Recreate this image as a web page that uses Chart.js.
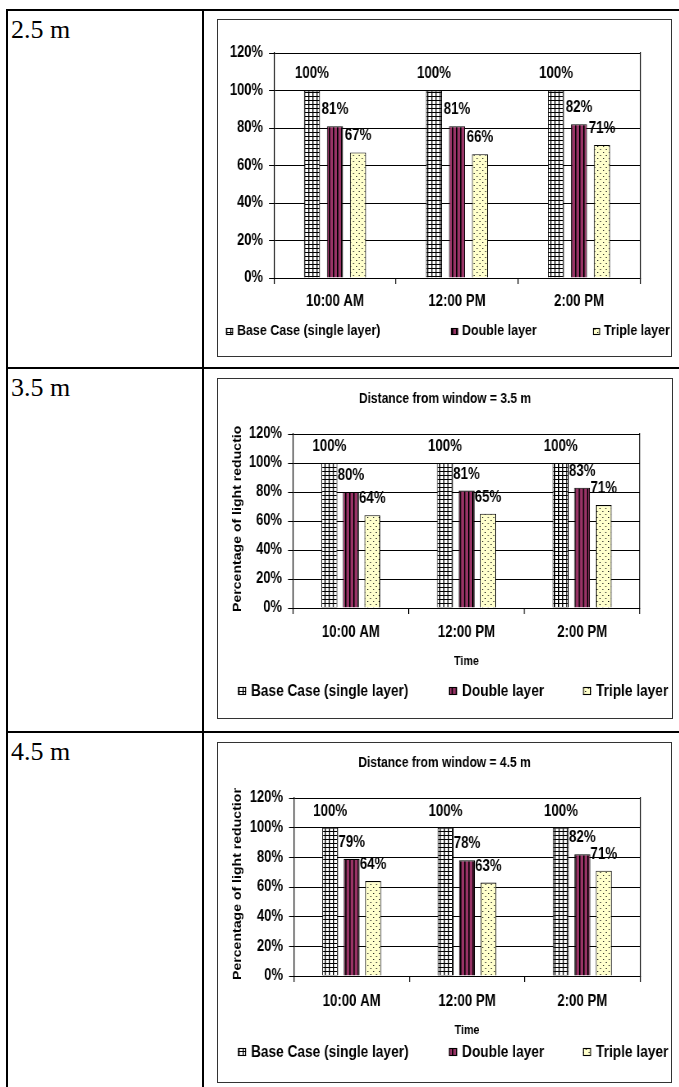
<!DOCTYPE html>
<html>
<head>
<meta charset="utf-8">
<script src="https://cdn.jsdelivr.net/npm/chart.js@4"></script>
<style>
html,body{margin:0;padding:0;background:#fff;}
body{width:679px;height:1087px;overflow:hidden;position:relative;}
.line{position:absolute;background:#000;}
.lbl{position:absolute;left:11px;font-size:26px;line-height:26px;font-family:'Liberation Serif','Times New Roman',serif;color:#000;white-space:nowrap;}
.box{position:absolute;border:1px solid #333;box-sizing:border-box;}
canvas{position:absolute;}
</style>
</head>
<body>
<div class="line" style="left:6px;top:9px;width:673px;height:2px"></div>
<div class="line" style="left:6px;top:9px;width:2px;height:1078px"></div>
<div class="line" style="left:202px;top:9px;width:2px;height:1078px"></div>
<div class="line" style="left:6px;top:367px;width:673px;height:2px"></div>
<div class="line" style="left:6px;top:731px;width:673px;height:2px"></div>
<script>
// ---------- data ----------
const categories = ['10:00 AM', '12:00 PM', '2:00 PM'];
const seriesNames = ['Base Case (single layer)', 'Double layer', 'Triple layer'];
const rowLabels = ['2.5 m', '3.5 m', '4.5 m'];
const chartTitles = [null, 'Distance from window = 3.5 m', 'Distance from window = 4.5 m'];
const xAxisTitle = 'Time';
const yAxisTitle = 'Percentage of light reduction';
const yTickLabels = ['0%', '20%', '40%', '60%', '80%', '100%', '120%'];

const base25 = [100, 100, 100];
const double25 = [81, 81, 82];
const triple25 = [67, 66, 71];

const base35 = [100, 100, 100];
const double35 = [80, 81, 83];
const triple35 = [64, 65, 71];

const base45 = [100, 100, 100];
const double45 = [79, 78, 82];
const triple45 = [64, 63, 71];

const panelValues = [
  [base25, double25, triple25],
  [base35, double35, triple35],
  [base45, double45, triple45]
];

// ---------- styling / layout (horizontal values in page px relative to canvas left) ----------
const FONT = "'Liberation Sans',Arial,sans-serif";
const SQUISH = 0.82; // the reference chart is horizontally condensed

const layouts = [
  { box: [217, 19, 671, 356], labelTop: 17, padL: 6, yW: 50, padR: 31, padT: 33, xH: 40, padB: 38, tickPad: 8.4,
    cat: 0.566, bar: 0.70, axisTitles: false,
    legend: { xs: [8, 233, 375], y: 311, size: 15.2, box: 7, gap: 4 } },
  { box: [217, 378, 672, 718], labelTop: 375, padL: 14, yW: 61, padR: 32, padT: 55, xH: 61, padB: 49, tickPad: 9.4,
    cat: 0.5575, bar: 0.744, axisTitles: true,
    title: { x: 227, y: 20, size: 14.7 },
    legend: { xs: [20, 231, 365], y: 312, size: 16.7, box: 8, gap: 5 },
    yTitle: { x: 20, bottom: 233, clipTop: 46, size: 14.1 } },
  { box: [217, 742, 671, 1082], labelTop: 739, padL: 14, yW: 62, padR: 31, padT: 55, xH: 62, padB: 44, tickPad: 10.4,
    cat: 0.5575, bar: 0.744, axisTitles: true,
    title: { x: 226.5, y: 20, size: 14.7 },
    legend: { xs: [20, 231, 365], y: 309, size: 16.7, box: 8, gap: 5 },
    yTitle: { x: 20, bottom: 237, clipTop: 45, size: 14.1 } }
];

function makePatterns() {
  function tile(w, h, draw) {
    const c = document.createElement('canvas');
    c.width = w; c.height = h;
    const g = c.getContext('2d');
    draw(g);
    return g.createPattern(c, 'repeat');
  }
  const grid = tile(5, 4, g => {
    g.fillStyle = '#fff'; g.fillRect(0, 0, 5, 4);
    g.fillStyle = '#000'; g.fillRect(0, 0, 5, 1); g.fillRect(0, 0, 1.3, 4);
  });
  const stripes = tile(5, 4, g => {
    g.fillStyle = '#993366'; g.fillRect(0, 0, 5, 4);
    g.fillStyle = '#000'; g.fillRect(0, 0, 1.6, 4);
  });
  const dots = tile(7, 6, g => {
    g.fillStyle = '#ffffcc'; g.fillRect(0, 0, 7, 6);
    g.fillStyle = '#222'; g.fillRect(0, 0, 1.3, 1); g.fillRect(3.5, 3, 1.3, 1);
  });
  return [grid, stripes, dots];
}

const barLabelsPlugin = {
  id: 'barLabels',
  afterDatasetsDraw(chart, args, o) {
    const ctx = chart.ctx;
    ctx.save();
    ctx.font = `bold ${o.size}px ${FONT}`;
    ctx.fillStyle = '#000';
    ctx.textAlign = 'center';
    ctx.textBaseline = 'middle';
    chart.data.datasets.forEach((ds, i) => {
      const meta = chart.getDatasetMeta(i);
      meta.data.forEach((bar, j) => {
        ctx.fillText(ds.data[j] + '%', bar.x, bar.y - o.offset);
      });
    });
    ctx.restore();
  }
};

const chartTitlePlugin = {
  id: 'chartTitle',
  afterDraw(chart, args, o) {
    if (!o || !o.text) return;
    const ctx = chart.ctx;
    ctx.save();
    ctx.font = `bold ${o.size}px ${FONT}`;
    ctx.fillStyle = '#000';
    ctx.textAlign = 'center';
    ctx.textBaseline = 'middle';
    ctx.fillText(o.text, o.x, o.y);
    ctx.restore();
  }
};

const seriesLegendPlugin = {
  id: 'seriesLegend',
  afterDraw(chart, args, o) {
    const ctx = chart.ctx;
    ctx.save();
    ctx.font = `bold ${o.size}px ${FONT}`;
    ctx.textAlign = 'left';
    ctx.textBaseline = 'middle';
    chart.data.datasets.forEach((ds, i) => {
      const x = o.xs[i];
      const top = Math.round(o.y - o.boxH / 2);
      ctx.fillStyle = ds.backgroundColor;
      ctx.fillRect(x, top, o.boxW, o.boxH);
      ctx.strokeStyle = '#000';
      ctx.lineWidth = 1.1;
      ctx.strokeRect(x + 0.5, top + 0.5, o.boxW - 1, o.boxH - 1);
      ctx.fillStyle = '#000';
      ctx.fillText(ds.label, x + o.boxW + o.gap, o.y);
    });
    ctx.restore();
  }
};

const yTitlePlugin = {
  id: 'yTitle',
  afterDraw(chart, args, o) {
    if (!o || !o.text) return;
    const ctx = chart.ctx;
    ctx.save();
    ctx.beginPath();
    ctx.rect(0, o.clipTop, chart.width, chart.height);
    ctx.clip();
    ctx.translate(o.x, o.bottom);
    ctx.rotate(-Math.PI / 2);
    ctx.font = `bold ${o.size}px ${FONT}`;
    ctx.fillStyle = '#000';
    ctx.textAlign = 'left';
    ctx.textBaseline = 'middle';
    ctx.fillText(o.text, 0, 0);
    ctx.restore();
  }
};

const patterns = makePatterns();

layouts.forEach((L, p) => {
  const [bl, bt, br, bb] = L.box;
  const lbl = document.createElement('div');
  lbl.className = 'lbl';
  lbl.style.top = L.labelTop + 'px';
  lbl.textContent = rowLabels[p];
  document.body.appendChild(lbl);

  const box = document.createElement('div');
  box.className = 'box';
  box.style.left = bl + 'px';
  box.style.top = bt + 'px';
  box.style.width = (br - bl + 1) + 'px';
  box.style.height = (bb - bt + 1) + 'px';
  document.body.appendChild(box);

  const W = br - bl - 1, H = bb - bt - 1;
  const Wc = Math.round(W / SQUISH);
  const sx = W / Wc;
  const X = v => v / sx;  // page px -> canvas px (horizontal)

  const cv = document.createElement('canvas');
  cv.width = Wc; cv.height = H;
  cv.style.left = (bl + 1) + 'px';
  cv.style.top = (bt + 1) + 'px';
  cv.style.width = W + 'px';
  cv.style.height = H + 'px';
  document.body.appendChild(cv);

  const title = chartTitles[p];
  const titleOpts = L.title ? { text: title, x: X(L.title.x), y: L.title.y, size: L.title.size } : { text: null };
  const yt = L.yTitle ? { text: yAxisTitle, x: X(L.yTitle.x), bottom: L.yTitle.bottom, clipTop: L.yTitle.clipTop, size: L.yTitle.size } : { text: null };
  const lg = L.legend;
  const legendOpts = { xs: lg.xs.map(X), y: lg.y, size: lg.size, boxW: X(lg.box), boxH: lg.box, gap: X(lg.gap) };

  new Chart(cv, {
    type: 'bar',
    data: {
      labels: categories,
      datasets: seriesNames.map((name, i) => ({
        label: name,
        data: panelValues[p][i],
        backgroundColor: patterns[i],
        borderColor: '#000',
        borderWidth: 1.1,
        categoryPercentage: L.cat,
        barPercentage: L.bar
      }))
    },
    options: {
      responsive: false,
      animation: false,
      devicePixelRatio: 1,
      events: [],
      layout: { padding: { left: X(L.padL), right: X(L.padR), top: L.padT, bottom: L.padB } },
      plugins: {
        legend: { display: false },
        tooltip: { enabled: false },
        title: { display: false },
        barLabels: { size: 16.2, offset: 16.5 },
        chartTitle: titleOpts,
        seriesLegend: legendOpts,
        yTitle: yt
      },
      scales: {
        x: {
          grid: { display: true, drawOnChartArea: false, drawTicks: true, tickLength: 6, color: '#000', lineWidth: 1.2, offset: true },
          border: { display: true, color: '#000', width: 1 },
          ticks: { color: '#000', font: { family: FONT, size: 16.1, weight: 'bold' }, padding: L.tickPad, maxRotation: 0, autoSkip: false },
          title: { display: L.axisTitles, text: xAxisTitle, color: '#000', font: { family: FONT, size: 13.1, weight: 'bold' }, padding: 0 },
          afterFit: s => { s.height = L.xH; }
        },
        y: {
          min: 0, max: 120,
          ticks: { stepSize: 20, color: '#000', font: { family: FONT, size: 15.8, weight: 'bold' }, padding: X(6),
                   callback: (v, i) => yTickLabels[i] },
          grid: { color: '#000', tickLength: X(5), drawTicks: true },
          border: { display: true, color: '#000', width: 1.2 },
          afterFit: s => { s.width = X(L.yW); }
        },
        yr: {
          position: 'right', min: 0, max: 120,
          ticks: { display: false },
          grid: { drawOnChartArea: false, drawTicks: false },
          border: { display: true, color: '#000', width: 1.2 },
          afterFit: s => { s.width = 0; }
        }
      }
    },
    plugins: [barLabelsPlugin, chartTitlePlugin, seriesLegendPlugin, yTitlePlugin]
  });
});
</script>
</body>
</html>
